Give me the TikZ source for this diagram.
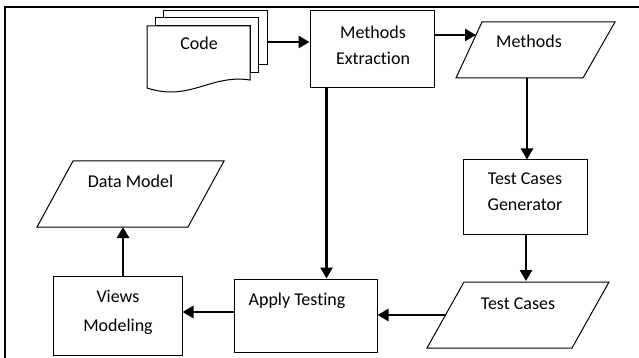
\documentclass[tikz,border=0pt]{standalone}
\usepackage{fontspec}
\setmainfont{Carlito}[Ligatures=NoCommon]
\usetikzlibrary{arrows.meta,calc}
\tikzset{
  box/.style={draw=black, line width=1pt, fill=white, inner sep=0pt},
  shp/.style={draw=black, line width=1pt, fill=white},
  txt/.style={font=\fontsize{18}{26}\selectfont, inner sep=0pt, align=center},
  arr/.style={line width=2.6pt, -{Triangle[length=11pt,width=12pt]}},
  frame/.style={line width=2pt}
}
\begin{document}
\begin{tikzpicture}[x=1pt,y=-1pt]
\useasboundingbox (0,0) rectangle (639,358);
\draw[frame] (5,358) -- (5,7) -- (639,7);

% Code multi-document
\draw[shp] (163,11) -- (267,11) -- (267,65) -- (258,65) -- (258,18) -- (163,18) -- cycle;
\draw[shp] (155,18) -- (258,18) -- (258,73) -- (250,73) -- (250,26) -- (155,26) -- cycle;
\draw[shp] (147,26) -- (250,26) -- (250,80) .. controls (210,74) and (190,102) .. (147,88) -- cycle;
\node[txt, anchor=base] (code) at (199,50) {Code};
\coordinate (codeR) at (267,42);

% Methods Extraction
\node[box, minimum width=124pt, minimum height=77pt] (me) at (372,49.5) {};
\node[txt, anchor=base] (meT) at (373,65) {Methods\\Extraction};

% Methods parallelogram
\draw[shp] (456,78) -- (482,22) -- (615,22) -- (583,78) -- cycle;
\node[txt, anchor=base] (meth) at (529,48) {Methods};
\coordinate (methL) at (476,35);
\coordinate (methB) at (527,78);

% Test Cases Generator
\node[box, minimum width=124pt, minimum height=74pt] (tcg) at (525,197) {};
\node[txt, anchor=base] (tcgT) at (525,210) {Test Cases\\Generator};

% Test Cases parallelogram
\draw[shp] (427,348) -- (464,282) -- (609,282) -- (572,348) -- cycle;
\node[txt, anchor=base] (tc) at (518,309) {Test Cases};
\coordinate (tcT) at (526,281);
\coordinate (tcL) at (445.5,315);

% Apply Testing
\node[box, minimum width=143pt, minimum height=73pt] (at) at (305.5,315.5) {};
\node[txt, anchor=base] (atT) at (297,305) {Apply Testing};

% Views Modeling
\node[box, minimum width=129pt, minimum height=79pt] (vm) at (117.5,315.5) {};
\node[txt, anchor=base, font=\fontsize{18}{29}\selectfont] (vmT) at (118,331) {Views\\Modeling};

% Data Model parallelogram
\draw[shp] (37,227) -- (73,161) -- (224,161) -- (188,227) -- cycle;
\node[txt, anchor=base] (dm) at (130.5,187) {Data Model};
\coordinate (dmB) at (123,227);

% connectors
\coordinate (meS) at ($(me.south west)+(17,0)$);
\draw[arr] (codeR) -- (codeR -| me.west);
\draw[arr] (me.east |- methL) -- (methL);
\draw[arr] (methB) -- (methB |- tcg.north);
\draw[arr] (tcg.south -| tcT) -- (tcT);
\draw[arr] (tcL) -- (tcL -| at.east);
\draw[arr] (meS) -- (meS |- at.north);
\draw[arr] ([yshift=3.5pt]at.west) -- ([yshift=3.5pt]vm.east);
\draw[arr] ([xshift=5.5pt]vm.north) -- (dmB);
\end{tikzpicture}
\end{document}
